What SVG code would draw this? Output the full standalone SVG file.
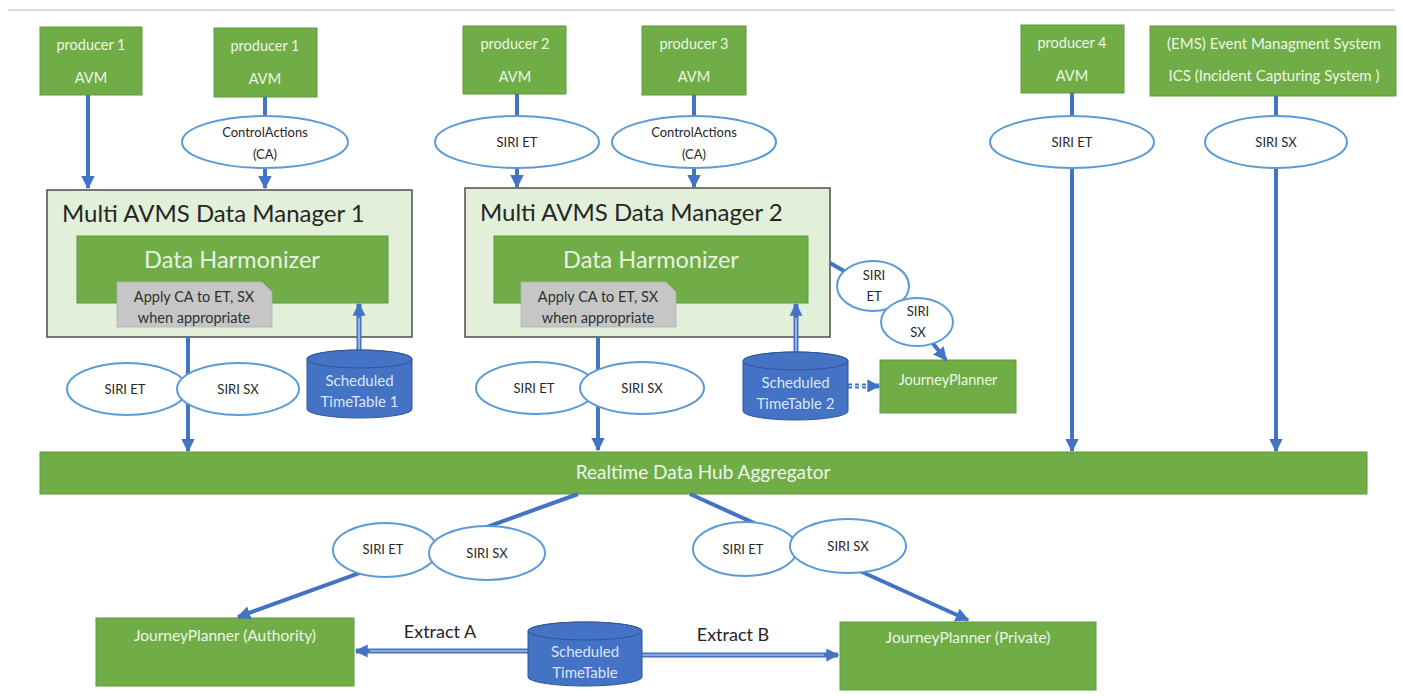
<svg xmlns="http://www.w3.org/2000/svg" width="1403" height="696" viewBox="0 0 1403 696">
<defs>
<marker id="ah" viewBox="0 0 10 10" refX="9" refY="5" markerWidth="3.4" markerHeight="3.6" orient="auto" markerUnits="strokeWidth"><path d="M0,0 L10,5 L0,10 Z" fill="#4472C4"/></marker>
<marker id="ah2" viewBox="0 0 10 10" refX="9" refY="5" markerWidth="2.6" markerHeight="2.8" orient="auto" markerUnits="strokeWidth"><path d="M0,0 L10,5 L0,10 Z" fill="#4472C4"/></marker>
<style>
text{font-family:Lato,"Open Sans","Liberation Sans",sans-serif}
.g{fill:#70AD47;stroke:#5f9a3c;stroke-width:1}
.wt{fill:#eef5e8;font-size:14.5px;text-anchor:middle}
.mgr{fill:#E2F0D9;stroke:#4d4d4d;stroke-width:1.5}
.ttl{fill:#262626;font-size:24px}
.dh{fill:#e8f2e0;font-size:23.5px;text-anchor:middle}
.note{fill:#c6c6c6;stroke:#b0b0b0;stroke-width:0.8}
.nt{fill:#303030;font-size:14.5px;text-anchor:middle}
.el{fill:#fff;stroke:#5B9BD5;stroke-width:2}
.et{fill:#262626;font-size:13px;text-anchor:middle}
.cyl{fill:#4472C4;stroke:#2F5597;stroke-width:1}
.ct{fill:#dbe6f4;font-size:15px;text-anchor:middle}
.ln{stroke:#4472C4;stroke-width:4;fill:none}
.dbl{stroke:#4472C4;stroke-width:5;fill:none}
.dblin{stroke:#cfe0f5;stroke-width:1.2;fill:none}
.ex{fill:#262626;font-size:18px;text-anchor:middle}
</style>
</defs>
<rect width="1403" height="696" fill="#fff"/>
<line x1="8" y1="10" x2="1395" y2="10" stroke="#cfcfcf" stroke-width="1.5"/>

<g id="producer1a"><rect class="g" x="40" y="27" width="102" height="68"/><text class="wt" x="91" y="50">producer 1</text><text class="wt" x="91" y="83">AVM</text></g>
<g id="producer1b"><rect class="g" x="214" y="28" width="103" height="69"/><text class="wt" x="265" y="51">producer 1</text><text class="wt" x="265" y="84">AVM</text></g>
<g id="producer2"><rect class="g" x="463" y="26" width="103" height="68"/><text class="wt" x="515" y="49">producer 2</text><text class="wt" x="515" y="82">AVM</text></g>
<g id="producer3"><rect class="g" x="642" y="26" width="104" height="69"/><text class="wt" x="694" y="49">producer 3</text><text class="wt" x="694" y="82">AVM</text></g>
<g id="producer4"><rect class="g" x="1021" y="25" width="103" height="68"/><text class="wt" x="1072" y="48">producer 4</text><text class="wt" x="1072" y="81">AVM</text></g>
<g id="ems"><rect class="g" x="1150" y="26" width="246" height="70"/><text class="wt" x="1274" y="49" style="font-size:15px">(EMS) Event Managment System</text><text class="wt" x="1274" y="81" style="font-size:15px">ICS (Incident Capturing System )</text></g>

<g id="manager1">
<rect class="mgr" x="47" y="190" width="365" height="147"/>
<text class="ttl" x="62" y="222">Multi AVMS Data Manager 1</text>
<rect class="g" x="77" y="236" width="311" height="67"/>
<text class="dh" x="232" y="268">Data  Harmonizer</text>
<path class="note" d="M117,282 H262 L272,292 V327 H117 Z"/>
<text class="nt" x="194" y="302">Apply CA to ET, SX</text>
<text class="nt" x="194" y="323">when appropriate</text>
</g>
<g id="manager2">
<rect class="mgr" x="465" y="188" width="365" height="149"/>
<text class="ttl" x="480" y="221">Multi AVMS Data Manager 2</text>
<rect class="g" x="494" y="236" width="314" height="67"/>
<text class="dh" x="651" y="268">Data  Harmonizer</text>
<path class="note" d="M521,282 H666 L676,292 V327 H521 Z"/>
<text class="nt" x="598" y="302">Apply CA to ET, SX</text>
<text class="nt" x="598" y="323">when appropriate</text>
</g>

<g id="jp2"><rect class="g" x="880" y="360" width="136" height="53"/><text class="wt" x="948" y="385">JourneyPlanner</text></g>
<g id="hub"><rect class="g" x="40" y="452" width="1327" height="42"/><text class="wt" x="703" y="479" style="font-size:19px">Realtime Data Hub Aggregator</text></g>
<g id="jpA"><rect class="g" x="96" y="618" width="258" height="68"/><text class="wt" x="225" y="641" style="font-size:15.5px">JourneyPlanner (Authority)</text></g>
<g id="jpP"><rect class="g" x="840" y="622" width="256" height="68"/><text class="wt" x="968" y="643" style="font-size:15.5px">JourneyPlanner (Private)</text></g>

<g id="connectors">
<line class="ln" x1="88" y1="95" x2="88" y2="188" marker-end="url(#ah)"/>
<line class="ln" x1="265" y1="97" x2="265" y2="188" marker-end="url(#ah)"/>
<line class="ln" x1="517" y1="94" x2="517" y2="187" marker-end="url(#ah)"/>
<line class="ln" x1="694" y1="95" x2="694" y2="187" marker-end="url(#ah)"/>
<line class="ln" x1="1072" y1="93" x2="1072" y2="451" marker-end="url(#ah)"/>
<line class="ln" x1="1276" y1="96" x2="1276" y2="451" marker-end="url(#ah)"/>
<line class="ln" x1="188" y1="337" x2="188" y2="451" marker-end="url(#ah)"/>
<line class="ln" x1="598" y1="337" x2="598" y2="450" marker-end="url(#ah)"/>
<polyline class="ln" points="830,263 872,287 916,322 946,360" marker-end="url(#ah)"/>
<line class="ln" x1="578" y1="494" x2="238" y2="617" marker-end="url(#ah)"/>
<line class="ln" x1="690" y1="494" x2="968" y2="620" marker-end="url(#ah)"/>
<line class="dbl" x1="359" y1="352" x2="359" y2="304" marker-end="url(#ah2)"/>
<line class="dblin" x1="359" y1="352" x2="359" y2="318"/>
<line class="dbl" x1="796" y1="354" x2="796" y2="304" marker-end="url(#ah2)"/>
<line class="dblin" x1="796" y1="354" x2="796" y2="318"/>
<line class="dbl" x1="528" y1="651" x2="356" y2="651" marker-end="url(#ah2)"/>
<line class="dblin" x1="528" y1="651" x2="370" y2="651"/>
<line class="dbl" x1="642" y1="655" x2="838" y2="655" marker-end="url(#ah2)"/>
<line class="dblin" x1="642" y1="655" x2="824" y2="655"/>
<line class="dbl" x1="848" y1="386" x2="879" y2="386" stroke-dasharray="4 3" marker-end="url(#ah2)"/>
<line class="dblin" x1="848" y1="386" x2="866" y2="386"/>
</g>

<g id="ca1"><ellipse class="el" cx="265" cy="142" rx="83" ry="26"/><text class="et" x="265" y="137">ControlActions</text><text class="et" x="265" y="159">(CA)</text></g>
<g id="et2in"><ellipse class="el" cx="517" cy="142" rx="82" ry="26"/><text class="et" x="517" y="147">SIRI ET</text></g>
<g id="ca2"><ellipse class="el" cx="694" cy="142" rx="82" ry="26"/><text class="et" x="694" y="137">ControlActions</text><text class="et" x="694" y="159">(CA)</text></g>
<g id="et4"><ellipse class="el" cx="1072" cy="142" rx="82" ry="26"/><text class="et" x="1072" y="147">SIRI ET</text></g>
<g id="sxems"><ellipse class="el" cx="1276" cy="142" rx="71" ry="26"/><text class="et" x="1276" y="147">SIRI SX</text></g>

<g id="out1"><ellipse class="el" cx="127" cy="389" rx="60" ry="26"/><text class="et" x="125" y="394">SIRI ET</text><ellipse class="el" cx="238" cy="389" rx="61" ry="26"/><text class="et" x="238" y="394">SIRI SX</text></g>
<g id="out2"><ellipse class="el" cx="536" cy="388" rx="60" ry="26"/><text class="et" x="534" y="393">SIRI ET</text><ellipse class="el" cx="642" cy="388" rx="62" ry="26"/><text class="et" x="642" y="393">SIRI SX</text></g>
<g id="side2"><ellipse class="el" cx="873" cy="286" rx="36" ry="25"/><text class="et" x="874" y="280">SIRI</text><text class="et" x="874" y="301">ET</text><ellipse class="el" cx="917" cy="322" rx="36" ry="24"/><text class="et" x="918" y="316">SIRI</text><text class="et" x="918" y="337">SX</text></g>

<g id="tt1"><path class="cyl" d="M307,359 A52.5,9 0 0 1 412,359 V409 A52.5,9 0 0 1 307,409 Z"/><ellipse class="cyl" cx="359.5" cy="359" rx="52.5" ry="9"/><text class="ct" x="359.5" y="386">Scheduled</text><text class="ct" x="359.5" y="407">TimeTable 1</text></g>
<g id="tt2"><path class="cyl" d="M743,361 A52.5,9 0 0 1 848,361 V411 A52.5,9 0 0 1 743,411 Z"/><ellipse class="cyl" cx="795.5" cy="361" rx="52.5" ry="9"/><text class="ct" x="795.5" y="388">Scheduled</text><text class="ct" x="795.5" y="409">TimeTable 2</text></g>

<g id="outL"><ellipse class="el" cx="385" cy="550" rx="52" ry="27"/><text class="et" x="383" y="554">SIRI ET</text><ellipse class="el" cx="487" cy="553" rx="58" ry="27"/><text class="et" x="487" y="558">SIRI SX</text></g>
<g id="outR"><ellipse class="el" cx="745" cy="549" rx="52" ry="27"/><text class="et" x="743" y="554">SIRI ET</text><ellipse class="el" cx="848" cy="546" rx="58" ry="27"/><text class="et" x="848" y="551">SIRI SX</text></g>

<g id="tt"><path class="cyl" d="M528,631 A57,9 0 0 1 642,631 V677 A57,9 0 0 1 528,677 Z"/><ellipse class="cyl" cx="585" cy="631" rx="57" ry="9"/><text class="ct" x="585" y="657">Scheduled</text><text class="ct" x="585" y="678">TimeTable</text></g>
<g id="labels"><text class="ex" x="440" y="638">Extract A</text><text class="ex" x="733" y="641">Extract B</text></g>
</svg>
